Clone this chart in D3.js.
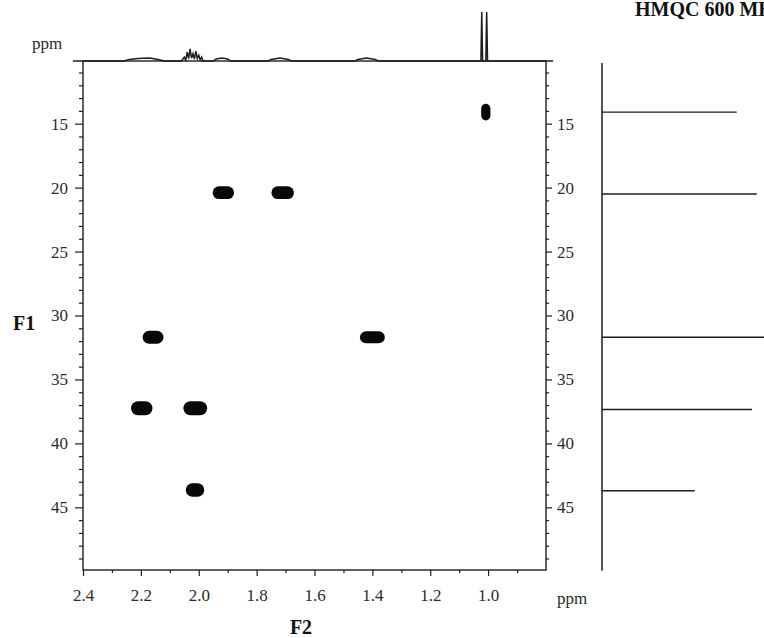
<!DOCTYPE html>
<html><head><meta charset="utf-8">
<script src="https://cdn.jsdelivr.net/npm/d3@7"></script>
<style>
body{margin:0;background:#fff}
svg{display:block}
text{font-family:"Liberation Serif","Times New Roman",serif}
</style></head>
<body><svg id="c" width="764" height="638"></svg>
<script>
// ---- data ----
const f2Ticks=[2.4,2.2,2.0,1.8,1.6,1.4,1.2,1.0];
const f2MinorTicks=[2.3,2.1,1.9,1.7,1.5,1.3,1.1,0.9];
const f1Ticks=[15,20,25,30,35,40,45];
const f1MinorTicks=[11,12,13,14,16,17,18,19,21,22,23,24,26,27,28,29,31,32,33,34,36,37,38,39,41,42,43,44,46,47,48,49];
// cross peaks (F2 ppm, F1 ppm, extent in F2 ppm, extent in F1 ppm)
const peakF2=[1.008,1.915,1.71,2.158,1.40,2.197,2.012,2.013];
const peakF1=[14.1,20.4,20.4,31.7,31.7,37.25,37.25,43.65];
const peakF2Extent=[0.032,0.074,0.078,0.072,0.086,0.074,0.082,0.064];
const peakF1Extent=[1.3,1.0,1.0,1.0,0.95,1.1,1.1,1.05];
// F1 projection (right)
const projF1=[14.1,20.5,31.7,37.35,43.7];
const projIntensity=[0.77,0.885,1.0,0.857,0.53];
// F2 projection (top) trace
const traceF2=[2.435,2.26,2.24,2.21,2.17,2.14,2.12,2.06,2.05,2.045,2.04,2.035,2.03,2.025,2.02,2.015,2.01,2.005,2.0,1.995,1.99,1.985,1.95,1.94,1.92,1.90,1.89,1.76,1.75,1.72,1.69,1.68,1.46,1.45,1.42,1.39,1.38,1.035,1.025,1.022,1.019,1.008,1.005,1.002,0.775];
const traceI=[0,0,0.03,0.05,0.06,0.03,0,0,0.08,0.02,0.18,0.05,0.25,0.06,0.15,0.04,0.2,0.05,0.12,0.02,0.08,0,0,0.04,0.06,0.04,0,0,0.03,0.06,0.03,0,0,0.03,0.06,0.03,0,0,0,1.0,0,0,1.0,0,0];

// ---- chart ----
const FONT='"Liberation Serif","Times New Roman",serif';
const svg=d3.select('#c');
const x=d3.scaleLinear([2.4,0.8],[83,546]);
const y=d3.scaleLinear([10.1,49.9],[61,570]);
const yTop=d3.scaleLinear([0,1],[61,12]);
const xRight=d3.scaleLinear([0,1],[602,777]);
const ink='#1e1e1e', txt='#2a2a2a';

function styleAxis(g){
  g.attr('font-size',17).attr('font-family',null);
  g.selectAll('.domain').remove();
  g.selectAll('line').attr('stroke',ink).attr('stroke-width',1.2);
  g.selectAll('text').attr('fill',txt).style('font-family',FONT).style('font-size','17px');
}
// frame
svg.append('rect').attr('x',x(2.4)).attr('y',y(10.1)).attr('width',x(0.8)-x(2.4)).attr('height',y(49.9)-y(10.1))
  .attr('fill','none').attr('stroke',ink).attr('stroke-width',1.4);

// bottom axis
svg.append('g').attr('transform',`translate(0,${y(49.9)})`)
  .call(d3.axisBottom(x).tickValues(f2Ticks).tickFormat(d3.format('.1f')).tickSize(6).tickPadding(13)).call(styleAxis);
svg.append('g').attr('transform',`translate(0,${y(49.9)})`)
  .call(d3.axisBottom(x).tickValues(f2MinorTicks).tickFormat('').tickSize(3)).call(styleAxis);
// left axis
svg.append('g').attr('transform',`translate(${x(2.4)},0)`)
  .call(d3.axisLeft(y).tickValues(f1Ticks).tickSize(8).tickPadding(7)).call(styleAxis);
svg.append('g').attr('transform',`translate(${x(2.4)},0)`)
  .call(d3.axisLeft(y).tickValues(f1MinorTicks).tickFormat('').tickSize(4)).call(styleAxis);
// right axis
svg.append('g').attr('transform',`translate(${x(0.8)},0)`)
  .call(d3.axisRight(y).tickValues(f1Ticks).tickSize(6).tickPadding(5)).call(styleAxis);
svg.append('g').attr('transform',`translate(${x(0.8)},0)`)
  .call(d3.axisRight(y).tickValues(f1MinorTicks).tickFormat('').tickSize(3)).call(styleAxis);

// cross peaks
const peaks=peakF2.map((d,i)=>({f2:d,f1:peakF1[i],w:peakF2Extent[i],h:peakF1Extent[i]}));
svg.append('g').selectAll('ellipse').data(peaks).join('rect')
  .attr('x',d=>x(d.f2+d.w/2)).attr('y',d=>y(d.f1-d.h/2))
  .attr('width',d=>x(d.f2-d.w/2)-x(d.f2+d.w/2)).attr('height',d=>y(d.f1+d.h/2)-y(d.f1-d.h/2))
  .attr('rx',d=>Math.min(x(d.f2-d.w/2)-x(d.f2+d.w/2),y(d.f1+d.h/2)-y(d.f1-d.h/2))/2)
  .attr('fill','#080808');

// top projection
const trace=traceF2.map((d,i)=>[d,traceI[i]]);
svg.append('path').datum(trace)
  .attr('d',d3.line().x(d=>x(d[0])).y(d=>yTop(d[1])))
  .attr('fill','none').attr('stroke',ink).attr('stroke-width',1.5);

// right projection
svg.append('line').attr('x1',xRight(0)).attr('x2',xRight(0)).attr('y1',y(10.25)).attr('y2',y(49.95))
  .attr('stroke',ink).attr('stroke-width',1.5);
svg.append('g').selectAll('line').data(projF1.map((d,i)=>({f1:d,v:projIntensity[i]}))).join('line')
  .attr('x1',xRight(0)).attr('x2',d=>xRight(d.v)).attr('y1',d=>y(d.f1)).attr('y2',d=>y(d.f1))
  .attr('stroke',ink).attr('stroke-width',1.4);

// labels
svg.append('text').attr('x',32).attr('y',49).attr('font-size',17).attr('fill',txt).text('ppm');
svg.append('text').attr('x',557).attr('y',604).attr('font-size',17).attr('fill',txt).text('ppm');
svg.append('text').attr('x',301).attr('y',634).attr('text-anchor','middle').attr('font-size',20).attr('font-weight','bold').attr('fill','#111').text('F2');
svg.append('text').attr('x',13).attr('y',330).attr('font-size',20).attr('font-weight','bold').attr('fill','#111').text('F1');
svg.append('text').attr('x',635).attr('y',16).attr('font-size',20).attr('font-weight','bold').attr('fill','#111').text('HMQC 600 MHz');
</script></body></html>
